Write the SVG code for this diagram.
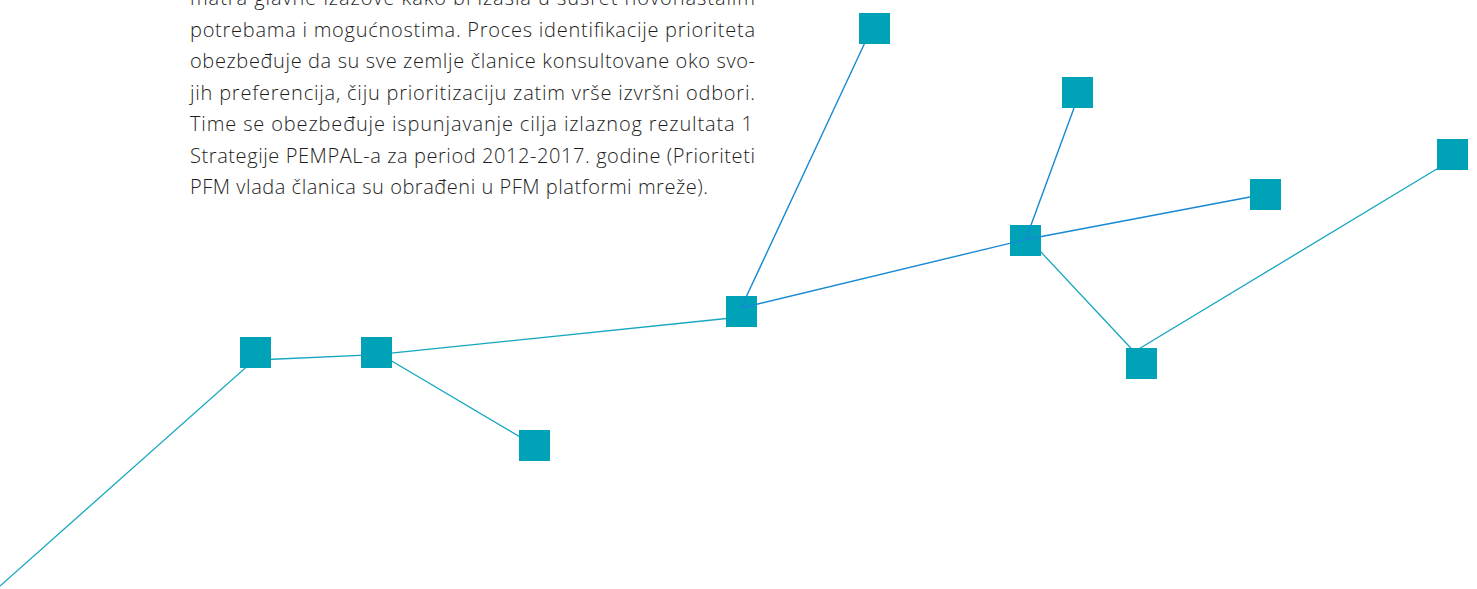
<svg xmlns="http://www.w3.org/2000/svg" width="1477" height="589" viewBox="0 0 1477 589">
<style>
.t{font-family:"Open Sans","Liberation Sans",sans-serif;font-weight:300;font-size:20px;fill:#1e1e1e}
.lt{stroke:#14a6bf;stroke-width:1.3;fill:none}
.lb{stroke:#1789d2;stroke-width:1.4;fill:none}
.n{fill:#00a2b8}
</style>
<rect width="1477" height="589" fill="#ffffff"/>
<g id="text">
<text class="t" x="190" y="5.2" textLength="565" lengthAdjust="spacing">matra glavne izazove kako bi izašla u susret novonastalim</text>
<text class="t" x="190" y="36.7" textLength="565" lengthAdjust="spacing">potrebama i mogućnostima. Proces identifikacije prioriteta</text>
<text class="t" x="190" y="68.2" textLength="565" lengthAdjust="spacing">obezbeđuje da su sve zemlje članice konsultovane oko svo-</text>
<text class="t" x="190" y="99.7" textLength="565" lengthAdjust="spacing">jih preferencija, čiju prioritizaciju zatim vrše izvršni odbori.</text>
<text class="t" x="190" y="131.2" textLength="563" lengthAdjust="spacing">Time se obezbeđuje ispunjavanje cilja izlaznog rezultata 1</text>
<text class="t" x="190" y="162.7" textLength="565" lengthAdjust="spacing">Strategije PEMPAL-a za period 2012-2017. godine (Prioriteti</text>
<text class="t" x="190" y="194.2" textLength="518" lengthAdjust="spacing">PFM vlada članica su obrađeni u PFM platformi mreže).</text>
</g>
<g id="connectors-back">
<line class="lt" x1="0" y1="586" x2="256" y2="358.5"/>
<line class="lt" x1="256" y1="360" x2="376.5" y2="354.6"/>
<line class="lt" x1="376.5" y1="352" x2="534.5" y2="445.5"/>
<line class="lt" x1="376.5" y1="354.6" x2="741" y2="317"/>
<line class="lt" x1="1030" y1="240.3" x2="1138" y2="355.8"/>
<line class="lt" x1="1135" y1="351.3" x2="1450" y2="161"/>
</g>
<g id="nodes">
<rect id="nA" class="n" x="240" y="337" width="31" height="31"/>
<rect id="nB" class="n" x="361" y="337" width="31" height="31"/>
<rect id="nC" class="n" x="519" y="430" width="31" height="31"/>
<rect id="nD" class="n" x="726" y="296" width="31" height="31"/>
<rect id="nE" class="n" x="859" y="13" width="31" height="31"/>
<rect id="nF" class="n" x="1062" y="77" width="31" height="31"/>
<rect id="nG" class="n" x="1010" y="225" width="31" height="31"/>
<rect id="nH" class="n" x="1250" y="179" width="31" height="31"/>
<rect id="nI" class="n" x="1126" y="348" width="31" height="31"/>
<rect id="nJ" class="n" x="1437" y="139" width="31" height="31"/>
</g>
<g id="connectors-front">
<line class="lb" x1="741" y1="308" x2="864.3" y2="44"/>
<line class="lb" x1="741" y1="308" x2="1025.7" y2="239.5"/>
<line class="lb" x1="1025.7" y1="239.5" x2="1074" y2="108"/>
<line class="lb" x1="1025.7" y1="239.5" x2="1250" y2="197"/>
</g>
</svg>
